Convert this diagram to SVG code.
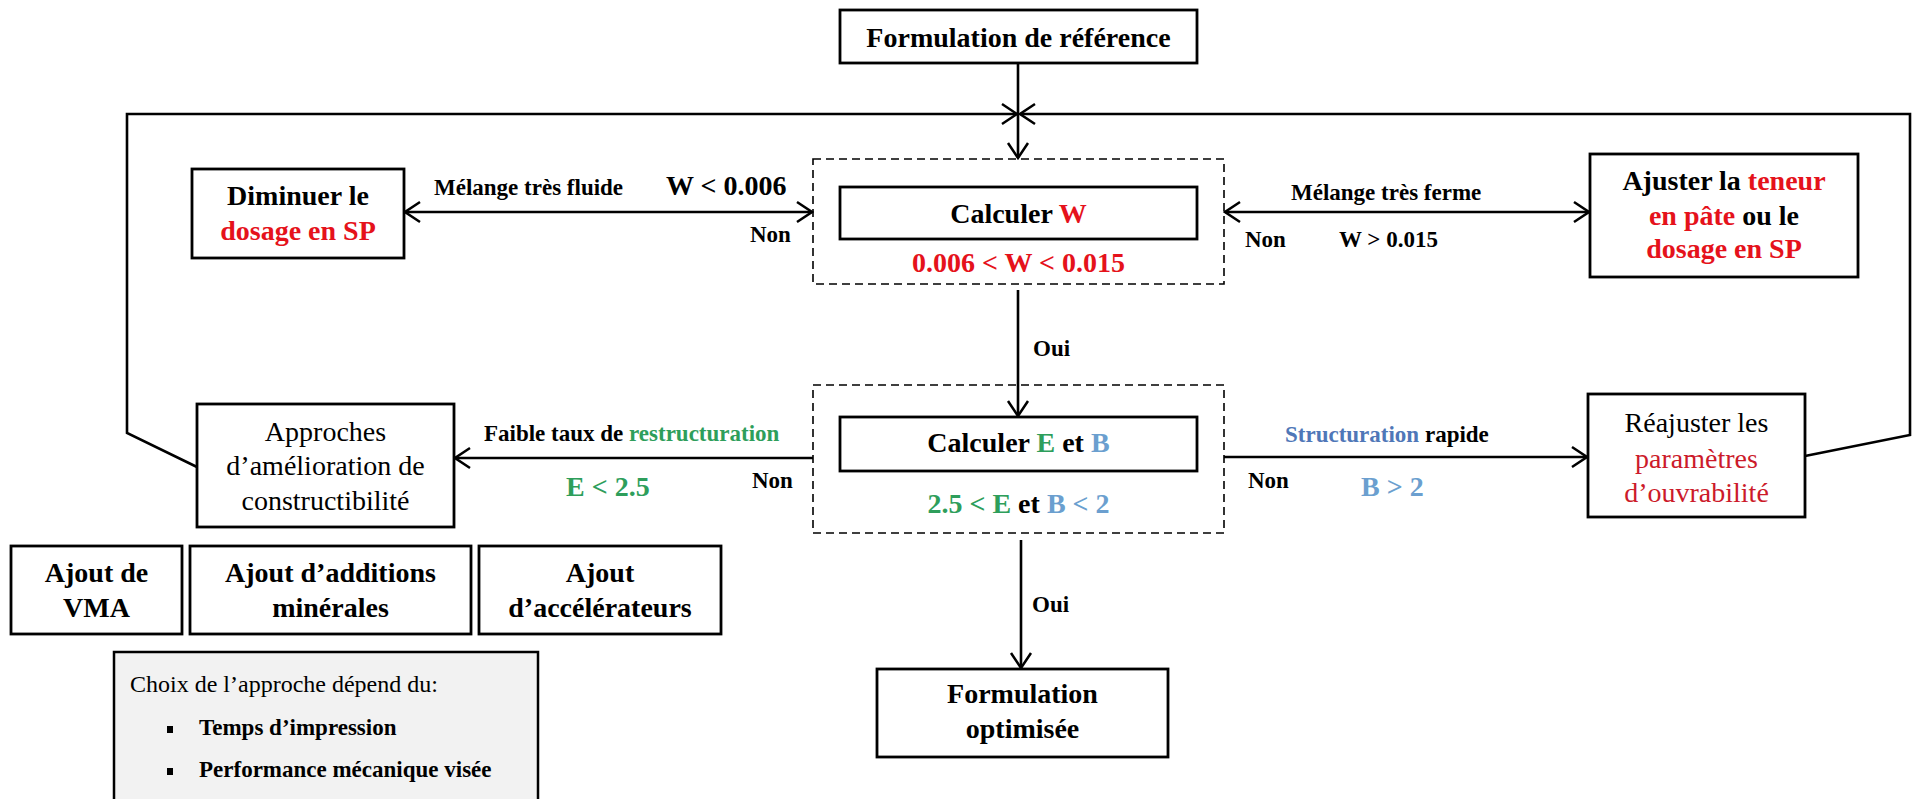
<svg xmlns="http://www.w3.org/2000/svg" width="1914" height="799" viewBox="0 0 1914 799">
<defs>
<marker id="arr" markerUnits="userSpaceOnUse" markerWidth="18" markerHeight="24" viewBox="0 0 18 24" refX="16" refY="12" orient="auto-start-reverse">
<path d="M1,2 L16,12 L1,22" fill="none" stroke="#000" stroke-width="2.5"/>
</marker>
<style>
.box{fill:#fff;stroke:#000;stroke-width:2.8}
.dash{fill:none;stroke:#000;stroke-width:1.6;stroke-dasharray:8 5}
.ln{fill:none;stroke:#000;stroke-width:2.6}
text{font-family:"Liberation Serif","Times New Roman",serif;fill:#000}
.b{font-weight:bold}
.t28{font-size:28px}
.t24{font-size:23px}
.mid{text-anchor:middle}
.red{fill:#e5121b}
.dred{fill:#cc1a2a}
.grn{fill:#2e9e5b}
.blu{fill:#6b9fcf}
.blu2{fill:#4f77b8}
</style>
</defs>
<rect width="1914" height="799" fill="#fff"/>

<g id="connectors">
<line class="ln" x1="1018" y1="63" x2="1018" y2="158" marker-end="url(#arr)"/>
<polyline class="ln" points="197,467 127,433 127,114 1017,114" marker-end="url(#arr)"/>
<polyline class="ln" points="1805,456 1910,435 1910,114 1020,114" marker-end="url(#arr)"/>
<line class="ln" x1="405" y1="212" x2="812" y2="212" marker-start="url(#arr)" marker-end="url(#arr)"/>
<line class="ln" x1="1225" y1="212" x2="1589" y2="212" marker-start="url(#arr)" marker-end="url(#arr)"/>
<line class="ln" x1="1018" y1="290" x2="1018" y2="416" marker-end="url(#arr)"/>
<line class="ln" x1="813" y1="458" x2="455" y2="458" marker-end="url(#arr)"/>
<line class="ln" x1="1224" y1="457" x2="1587" y2="457" marker-end="url(#arr)"/>
<line class="ln" x1="1021" y1="540" x2="1021" y2="668" marker-end="url(#arr)"/>
<text class="b t24" x="750" y="242">Non</text>
<text class="b t24" x="434" y="195">Mélange très fluide</text>
<text class="b t28" x="666" y="195">W &lt; 0.006</text>
<text class="b t24" x="1291" y="200">Mélange très ferme</text>
<text class="b t24" x="1245" y="247">Non</text>
<text class="b t24" x="1339" y="247">W &gt; 0.015</text>
<text class="b t24" x="1033" y="356">Oui</text>
<text class="b t24" x="484" y="441">Faible taux de <tspan class="grn">restructuration</tspan></text>
<text class="b t28 grn" x="566" y="496">E &lt; 2.5</text>
<text class="b t24" x="752" y="488">Non</text>
<text class="b t24" x="1285" y="442"><tspan class="blu2">Structuration</tspan> rapide</text>
<text class="b t24" x="1248" y="488">Non</text>
<text class="b t28 blu" x="1361" y="496">B &gt; 2</text>
<text class="b t24" x="1032" y="612">Oui</text>
</g>

<g id="ref">
<rect class="box" x="840" y="10" width="357" height="53"/>
<text class="b t28 mid" x="1018.5" y="47">Formulation de référence</text>
</g>

<g id="checkW">
<rect class="dash" x="813" y="159" width="411" height="125"/>
<rect class="box" x="840" y="187" width="357" height="52"/>
<text class="b t28 mid" x="1018.5" y="223">Calculer <tspan class="red">W</tspan></text>
<text class="b t28 mid red" x="1018.5" y="272">0.006 &lt; W &lt; 0.015</text>
</g>

<g id="diminuer">
<rect class="box" x="192" y="169" width="212" height="89"/>
<text class="b t28 mid" x="298" y="205">Diminuer le</text>
<text class="b t28 mid red" x="298" y="240">dosage en SP</text>
</g>

<g id="ajuster">
<rect class="box" x="1590" y="154" width="268" height="123"/>
<text class="b t28 mid" x="1724" y="190">Ajuster la <tspan class="red">teneur</tspan></text>
<text class="b t28 mid" x="1724" y="225"><tspan class="red">en pâte</tspan> ou le</text>
<text class="b t28 mid red" x="1724" y="258">dosage en SP</text>
</g>

<g id="checkEB">
<rect class="dash" x="813" y="385" width="411" height="148"/>
<rect class="box" x="840" y="417" width="357" height="54"/>
<text class="b t28 mid" x="1018.5" y="452">Calculer <tspan class="grn">E</tspan> et <tspan class="blu">B</tspan></text>
<text class="b t28 mid" x="1018.5" y="513"><tspan class="grn">2.5 &lt; E</tspan> et <tspan class="blu">B &lt; 2</tspan></text>
</g>

<g id="approches">
<rect class="box" x="197" y="404" width="257" height="123"/>
<text class="t28 mid" x="325.5" y="441">Approches</text>
<text class="t28 mid" x="325.5" y="475">d’amélioration de</text>
<text class="t28 mid" x="325.5" y="510">constructibilité</text>
</g>

<g id="reajuster">
<rect class="box" x="1588" y="394" width="217" height="123"/>
<text class="t28 mid" x="1696.5" y="432">Réajuster les</text>
<text class="t28 mid dred" x="1696.5" y="468">paramètres</text>
<text class="t28 mid dred" x="1696.5" y="502">d’ouvrabilité</text>
</g>

<g id="optimisee">
<rect class="box" x="877" y="669" width="291" height="88"/>
<text class="b t28 mid" x="1022.5" y="703">Formulation</text>
<text class="b t28 mid" x="1022.5" y="738">optimisée</text>
</g>

<g id="vma">
<rect class="box" x="11" y="546" width="171" height="88"/>
<text class="b t28 mid" x="96.5" y="582">Ajout de</text>
<text class="b t28 mid" x="96.5" y="617">VMA</text>
</g>

<g id="additions">
<rect class="box" x="190" y="546" width="281" height="88"/>
<text class="b t28 mid" x="330.5" y="582">Ajout d’additions</text>
<text class="b t28 mid" x="330.5" y="617">minérales</text>
</g>

<g id="accelerateurs">
<rect class="box" x="479" y="546" width="242" height="88"/>
<text class="b t28 mid" x="600" y="582">Ajout</text>
<text class="b t28 mid" x="600" y="617">d’accélérateurs</text>
</g>

<g id="choix">
<rect x="114" y="652" width="424" height="160" fill="#f2f2f2" stroke="#000" stroke-width="2.5"/>
<text x="130" y="692" font-size="24">Choix de l’approche dépend du:</text>
<rect x="167" y="726" width="6" height="7" fill="#000"/>
<text class="b" x="199" y="735" font-size="23">Temps d’impression</text>
<rect x="167" y="768" width="6" height="7" fill="#000"/>
<text class="b" x="199" y="777" font-size="23">Performance mécanique visée</text>
</g>
</svg>
